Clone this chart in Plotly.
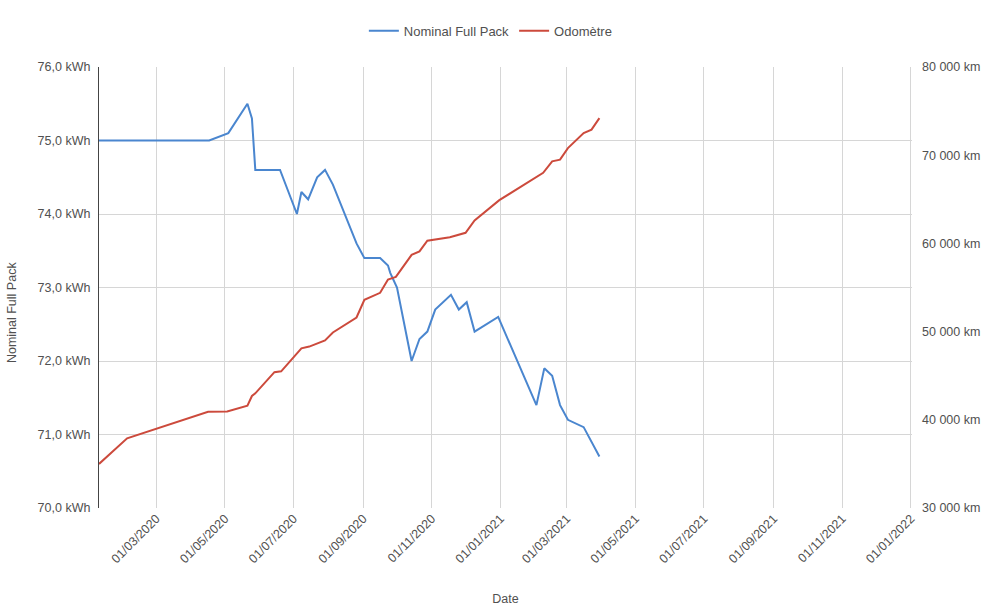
import plotly.graph_objects as go

# Nominal Full Pack (kWh)
pack_dates = [
    "2020-01-10", "2020-04-17", "2020-05-04", "2020-05-21", "2020-05-25", "2020-05-28",
    "2020-06-19", "2020-07-04", "2020-07-08", "2020-07-14", "2020-07-22", "2020-07-29",
    "2020-08-05", "2020-08-26", "2020-09-02", "2020-09-16", "2020-09-23", "2020-09-25",
    "2020-10-01", "2020-10-14", "2020-10-21", "2020-10-28", "2020-11-04", "2020-11-18",
    "2020-11-25", "2020-12-02", "2020-12-09", "2020-12-30", "2021-02-02", "2021-02-09",
    "2021-02-16", "2021-02-23", "2021-03-02", "2021-03-16", "2021-03-30",
]
pack_kwh = [
    75.0, 75.0, 75.1, 75.5, 75.3, 74.6,
    74.6, 74.0, 74.3, 74.2, 74.5, 74.6,
    74.4, 73.6, 73.4, 73.4, 73.3, 73.2,
    73.0, 72.0, 72.3, 72.4, 72.7, 72.9,
    72.7, 72.8, 72.4, 72.6, 71.4, 71.9,
    71.8, 71.4, 71.2, 71.1, 70.7,
]

# Odomètre (km)
odo_dates = [
    "2020-01-10", "2020-02-04", "2020-04-16", "2020-05-03", "2020-05-21", "2020-05-25",
    "2020-05-28", "2020-06-14", "2020-06-20", "2020-07-03", "2020-07-08", "2020-07-15",
    "2020-07-29", "2020-08-05", "2020-08-26", "2020-09-02", "2020-09-16", "2020-09-23",
    "2020-09-30", "2020-10-14", "2020-10-21", "2020-10-28", "2020-11-17", "2020-12-01",
    "2020-12-09", "2020-12-31", "2021-02-02", "2021-02-08", "2021-02-16", "2021-02-23",
    "2021-03-02", "2021-03-16", "2021-03-23", "2021-03-30",
]
odo_km = [
    35000, 37900, 40900, 40950, 41600, 42700,
    43000, 45400, 45500, 47300, 48100, 48300,
    49000, 49900, 51600, 53600, 54400, 55900,
    56200, 58700, 59100, 60300, 60700, 61200,
    62600, 64900, 67500, 68000, 69300, 69500,
    70800, 72500, 72900, 74200,
]

BLUE = "#4a86cf"
RED = "#cc4a3c"
GRID = "#d6d6d6"
TXT = "#505050"
FONT = "Liberation Sans, Arial, sans-serif"

fig = go.Figure()
fig.add_trace(go.Scatter(x=pack_dates, y=pack_kwh, mode="lines", name="Nominal Full Pack",
                         line=dict(color=BLUE, width=2), yaxis="y"))
fig.add_trace(go.Scatter(x=odo_dates, y=odo_km, mode="lines", name="Odomètre",
                         line=dict(color=RED, width=2), yaxis="y2"))

fig.update_layout(
    width=1000, height=616,
    margin=dict(l=99, r=88, t=67, b=108),
    paper_bgcolor="white", plot_bgcolor="white",
    separators=", ",
    font=dict(family=FONT, size=12.5, color=TXT),
    showlegend=True,
    legend=dict(orientation="h", x=0.482, xanchor="center", y=1.082, yanchor="middle",
                font=dict(size=13, color=TXT)),
    xaxis=dict(
        type="date", range=["2020-01-10", "2022-01-02"],
        tick0="2020-03-01", dtick="M2", tickformat="%d/%m/%Y", tickangle=-45,
        showgrid=True, gridcolor=GRID, gridwidth=1, zeroline=False, showline=False,
        ticks="", tickfont=dict(size=12.5, color=TXT),
        title=dict(text="Date", standoff=29, font=dict(size=12.5, color=TXT)),
    ),
    yaxis=dict(
        range=[70, 76], dtick=1, tickformat=",.1f", ticksuffix=" kWh",
        showgrid=True, gridcolor=GRID, zeroline=False,
        showline=True, linecolor="#444444", linewidth=1.2,
        ticks="", ticklabelstandoff=5, tickfont=dict(size=12.5, color=TXT),
    ),
    yaxis2=dict(
        range=[30000, 80000], dtick=10000, tickformat=",d", ticksuffix=" km",
        overlaying="y", side="right", showgrid=False, zeroline=False,
        showline=False, ticks="", ticklabelstandoff=9, tickfont=dict(size=12.5, color=TXT),
    ),
    annotations=[dict(
        text="Nominal Full Pack", textangle=-90, showarrow=False,
        xref="paper", yref="paper", x=-0.107, y=0.442,
        xanchor="center", yanchor="middle", font=dict(size=12.5, color=TXT),
    )],
)

fig.write_html("out.html")
